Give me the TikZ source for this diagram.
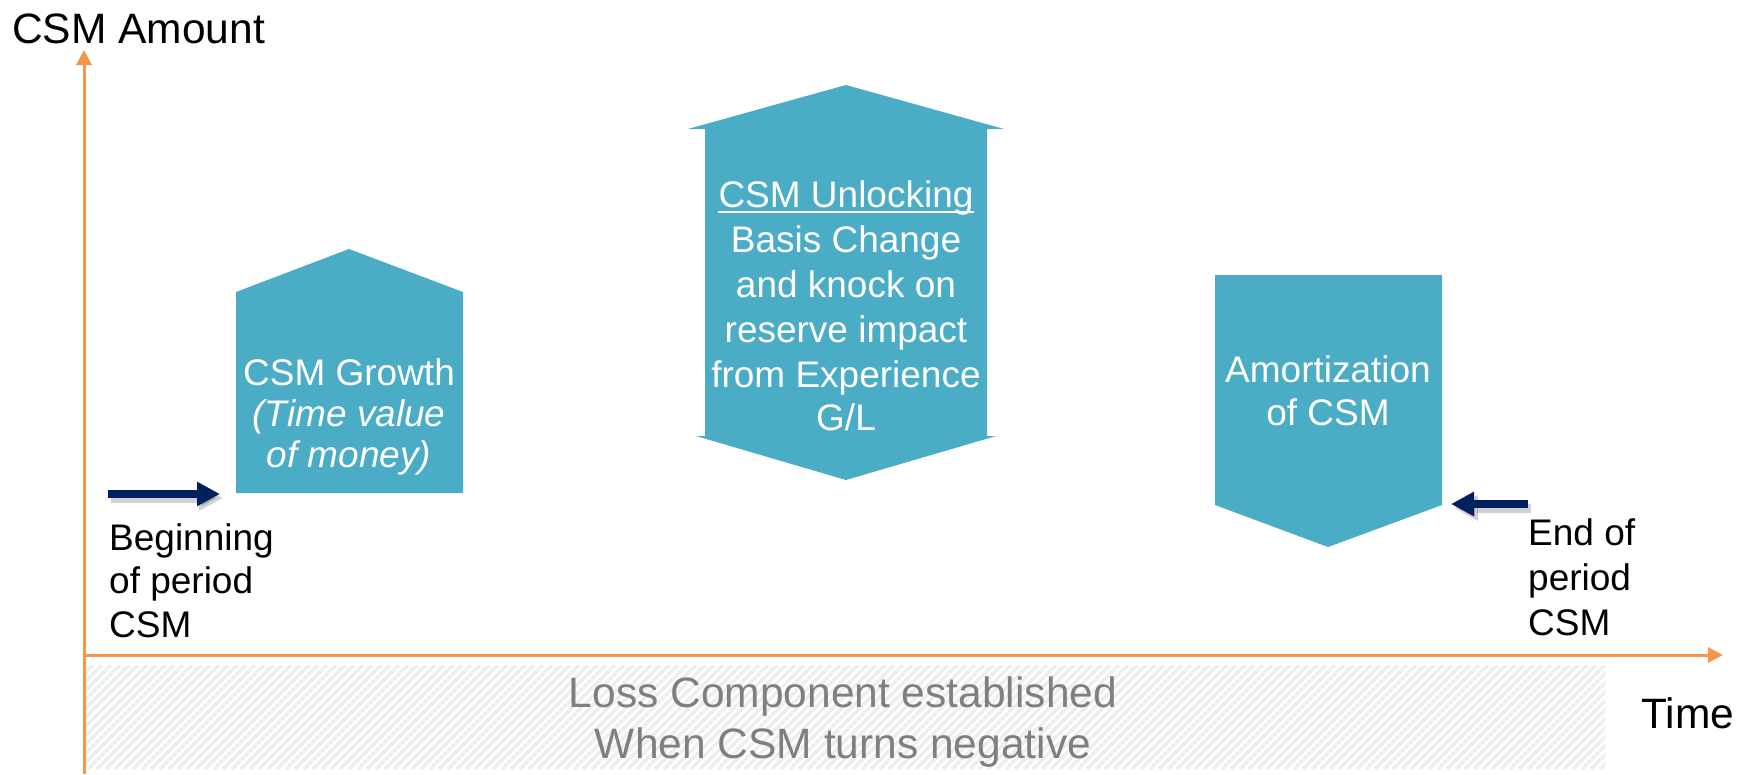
\documentclass[tikz,border=0pt]{standalone}
\usepackage{fontspec}
\setmainfont{Liberation Sans}
\usetikzlibrary{arrows.meta}
\definecolor{teal}{HTML}{4BACC6}
\definecolor{axisorange}{HTML}{F79646}
\definecolor{navy}{HTML}{002060}
\definecolor{hatchgray}{HTML}{EEEEEE}
\definecolor{losstext}{HTML}{7F7F7F}
\tikzset{
  shapebox/.style={fill=teal, draw=none},
  axisline/.style={draw=axisorange, line width=3pt, -{Triangle[length=15pt,width=15pt]}},
  navyarrow/.style={draw=navy, line width=8pt, -{Triangle[length=23pt,width=23pt]}},
  shadowarrow/.style={draw=black, opacity=0.18, line width=9pt, -{Triangle[length=24pt,width=24pt]}},
  blacktxt/.style={inner sep=0pt, font=\fontsize{37}{44}\selectfont, text=black},
  bigtxt/.style={inner sep=0pt, font=\fontsize{42.5}{48}\selectfont, text=black},
  boxtxt/.style={inner sep=0pt, font=\fontsize{37}{44}\selectfont, text=white},
  losstxt/.style={inner sep=0pt, font=\fontsize{42.5}{50}\selectfont, text=losstext},
  hatchline/.style={draw=hatchgray, line width=3.4pt}
}
\begin{document}
\begin{tikzpicture}[x=1pt,y=-1pt]
\useasboundingbox (0,0) rectangle (1740,774);
\fill[white] (0,0) rectangle (1740,774);

% hatched loss region
\begin{scope}
  \clip (84,665) rectangle (1605,769);
  \foreach \i in {-110,-101,...,1610} {
    \draw[hatchline] (\i,769) -- (\i+104,665);
  }
\end{scope}
\node[losstxt, anchor=base] (loss1) at (843,707) {Loss Component established};
\node[losstxt, anchor=base] (loss2) at (843,758) {When CSM turns negative};

% axes
\coordinate (ybot) at (84,774);
\coordinate (ytop) at (84,50);
\coordinate (xleft) at (82.5,655);
\coordinate (xright) at (1723,655);
\draw[axisline] (ybot) -- (ytop);
\draw[axisline] (xleft) -- (xright);
\node[bigtxt, anchor=base west] (ylabel) at (12,43) {CSM Amount};
\node[bigtxt, anchor=base west] (xlabel) at (1641,728) {Time};

% CSM growth (up arrow)
\fill[shapebox] (236,493) -- (236,292) -- (349,249) -- (463,292) -- (463,493) -- cycle;
\node[boxtxt, anchor=base] (g1) at (349,385) {CSM Growth};
\node[boxtxt, anchor=base] (g2) at (349,426) {\itshape (Time value};
\node[boxtxt, anchor=base] (g3) at (349,467) {\itshape of money)};

% CSM unlocking (up-down arrow)
\fill[shapebox] (705,129) -- (688,129) -- (846,85) -- (1004,129) -- (987,129)
  -- (987,436) -- (996,436) -- (846,480) -- (696,436) -- (705,436) -- cycle;
\node[boxtxt, anchor=base] (u1) at (846,207) {CSM Unlocking};
\draw[white, line width=2pt] ([yshift=-5pt]u1.base west) -- ([yshift=-5pt]u1.base east);
\node[boxtxt, anchor=base] (u2) at (846,252) {Basis Change};
\node[boxtxt, anchor=base] (u3) at (846,297) {and knock on};
\node[boxtxt, anchor=base] (u4) at (846,342) {reserve impact};
\node[boxtxt, anchor=base] (u5) at (846,387) {from Experience};
\node[boxtxt, anchor=base] (u6) at (846,430) {G/L};

% Amortization (down arrow)
\fill[shapebox] (1215,275) -- (1442,275) -- (1442,505) -- (1328,547) -- (1215,505) -- cycle;
\node[boxtxt, anchor=base] (a1) at (1328,382) {Amortization};
\node[boxtxt, anchor=base] (a2) at (1328,425) {of CSM};

% beginning label and arrow
\node[blacktxt, anchor=base west] (b1) at (109,550) {Beginning};
\node[blacktxt, anchor=base west] (b2) at (109,593) {of period};
\node[blacktxt, anchor=base west] (b3) at (109,637) {CSM};
\coordinate (bs) at (108,494);
\coordinate (be) at (220,494);
\draw[shadowarrow] ([shift={(3,4)}]bs) -- ([shift={(3,4)}]be);
\draw[navyarrow] (bs) -- (be);

% end label and arrow
\node[blacktxt, anchor=base west] (e1) at (1528,545) {End of};
\node[blacktxt, anchor=base west] (e2) at (1528,590) {period};
\node[blacktxt, anchor=base west] (e3) at (1528,635) {CSM};
\coordinate (es) at (1528,504);
\coordinate (ee) at (1451,504);
\draw[shadowarrow] ([shift={(3,4)}]es) -- ([shift={(3,4)}]ee);
\draw[navyarrow] (es) -- (ee);
\end{tikzpicture}
\end{document}
